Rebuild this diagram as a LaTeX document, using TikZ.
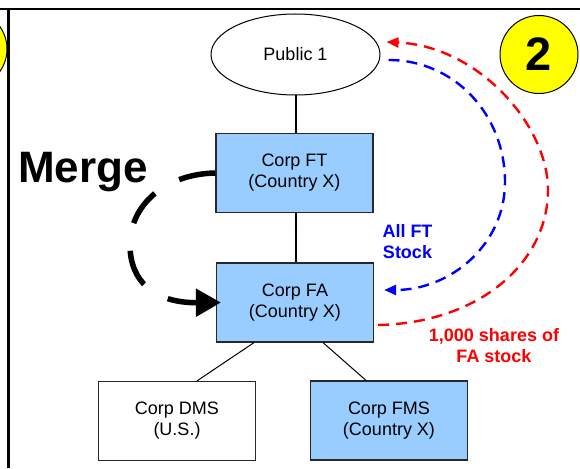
\documentclass[tikz,border=0pt]{standalone}
\usepackage{fontspec}
\setmainfont{Liberation Sans}
\usetikzlibrary{arrows.meta,shapes.geometric}

\definecolor{boxblue}{RGB}{153,204,255}
\definecolor{markyellow}{RGB}{255,255,0}
\definecolor{flowred}{RGB}{255,0,0}
\definecolor{flowblue}{RGB}{0,0,255}
\definecolor{edgegray}{RGB}{40,40,40}

\tikzset{
  entity/.style={draw=edgegray, line width=1.2pt, rectangle, minimum width=157pt,
    minimum height=79pt, inner sep=0pt, align=center,
    font=\fontsize{18}{21}\selectfont},
  foreign/.style={entity, fill=boxblue},
  domestic/.style={entity, fill=white},
  holder/.style={draw=black, line width=1pt, ellipse, minimum width=169pt,
    minimum height=81pt, inner sep=0pt, font=\fontsize{18}{21}\selectfont},
  stepmark/.style={draw=black, line width=1pt, circle, fill=markyellow,
    minimum size=78pt, inner sep=0pt, font=\fontsize{47}{47}\selectfont\bfseries},
  tie/.style={draw=black, line width=1.6pt},
  thintie/.style={draw=black, line width=1pt},
  frameline/.style={draw=black, line width=2.5pt},
  flow/.style={line width=2.4pt, dash pattern=on 11pt off 7pt,
    -{Triangle[length=12pt,width=10pt]}},
  mergearrow/.style={line width=5.5pt, dash pattern=on 37pt off 28pt,
    -{Triangle[length=25pt,width=27pt]}},
  flowlabel/.style={inner sep=0pt, align=center,
    font=\fontsize{18}{21}\selectfont\bfseries}
}

\begin{document}
\begin{tikzpicture}[x=1pt,y=-1pt]
  \useasboundingbox (0,0) rectangle (580,468);

  % frame of the slide
  \draw[frameline] (0,9) -- (580,9);
  \draw[frameline] (8.5,9) -- (8.5,468);

  % step markers
  \node[stepmark] (prevstep) at (-32,49) {};
  \node[stepmark] (thisstep) at (539,54.5) {2};

  % entities
  \node[holder]   (pub) at (295.5,54.5) {Public 1};
  \node[foreign]  (ft)  at (294.5,173)  {Corp FT\\(Country X)};
  \node[foreign]  (fa)  at (295,302.5)  {Corp FA\\(Country X)};
  \node[domestic] (dms) at (177,421)    {Corp DMS\\(U.S.)};
  \node[foreign]  (fms) at (389,420.5)  {Corp FMS\\(Country X)};

  % ownership lines
  \draw[tie] ([xshift=0.5pt]pub.south) -- ([xshift=1.5pt]ft.north);
  \draw[tie] ([xshift=1.5pt]ft.south) -- ([xshift=1pt]fa.north);
  \draw[thintie] ([xshift=-41pt]fa.south) -- ([xshift=20pt]dms.north);
  \draw[thintie] ([xshift=28pt]fa.south) -- ([xshift=-23pt]fms.north);

  % merger of FT into FA
  \node[anchor=base west, inner sep=0pt, font=\fontsize{44}{44}\selectfont\bfseries]
    (mergelbl) at (18,182) {Merge};
  \draw[mergearrow] (ft.west) .. controls (165,174) and (130,205) .. (130,245)
    .. controls (130,282) and (155,303) .. ([xshift=5pt]fa.west);

  % share flows
  \draw[flow, flowred] ([xshift=4pt,yshift=-22.5pt]fa.east)
    .. controls (480,323) and (548,262) .. (548,190)
    .. controls (548,125) and (478,46) .. ([xshift=6pt,yshift=12.5pt]pub.east);
  \draw[flow, flowblue] ([xshift=8pt,yshift=-5.5pt]pub.east)
    .. controls (455,60) and (505,115) .. (505,182)
    .. controls (505,245) and (450,290) .. ([xshift=10pt,yshift=12.5pt]fa.east);

  \node[flowlabel, text=flowblue] (ftstock) at (407.5,241.5) {All FT\\Stock};
  \node[flowlabel, text=flowred] (fastock) at (494,346) {1,000 shares of\\FA stock};
\end{tikzpicture}
\end{document}
